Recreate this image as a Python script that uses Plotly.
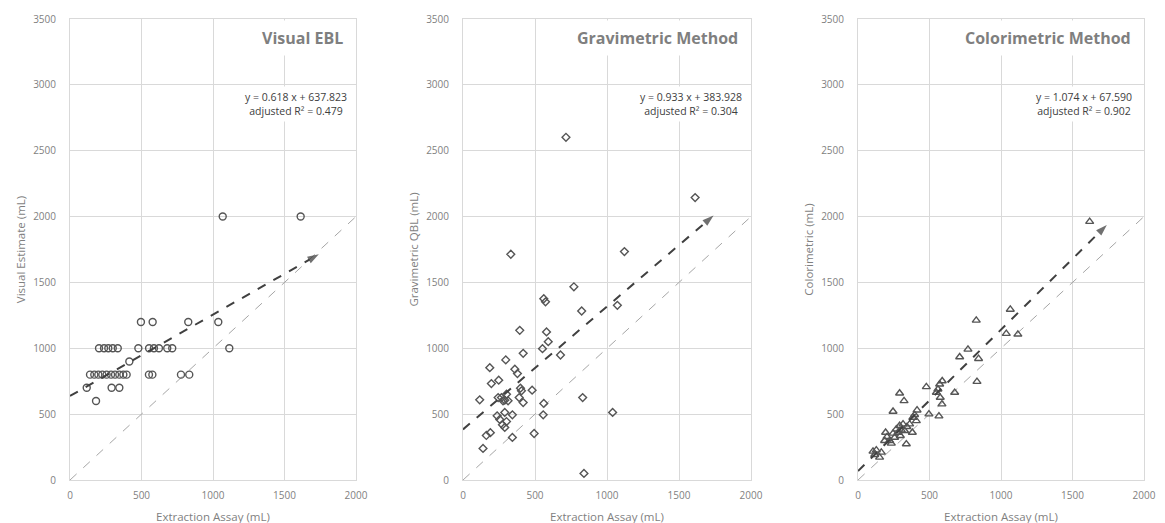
import plotly.graph_objects as go
from plotly.subplots import make_subplots

# ---------------- data ----------------
visual_x = [496, 578, 827, 1037,
            203, 238, 268, 299, 334, 478, 553, 587, 622, 680, 715, 1114,
            415,
            140, 170, 198, 226, 256, 287, 315, 345, 373, 396, 552, 576, 776, 834,
            117, 291, 345,
            182,
            1068, 1613]
visual_y = [1200, 1200, 1200, 1200,
            1000, 1000, 1000, 1000, 1000, 1000, 1000, 1000, 1000, 1000, 1000, 1000,
            900,
            800, 800, 800, 800, 800, 800, 800, 800, 800, 800, 800, 800, 800, 800,
            700, 700, 700,
            600,
            2000, 2000]

grav_x = [116, 139, 162, 190, 186, 197, 248, 297, 237, 255, 274, 290, 302, 290, 343, 343,
          244, 267, 290, 302, 313, 278, 360, 378, 394, 399, 406, 390, 418, 418, 480, 494,
          552, 561, 557, 561, 573, 580, 592, 677, 770, 824, 831, 840, 1039, 1072,
          715, 1612, 332, 1121]
grav_y = [609, 240, 338, 359, 853, 732, 758, 912, 487, 460, 419, 399, 444, 513, 495, 323,
          626, 626, 606, 651, 601, 601, 841, 808, 1136, 697, 677, 626, 588, 962, 682, 353,
          997, 581, 495, 1376, 1353, 1124, 1050, 949, 1467, 1283, 626, 50, 513, 1326,
          2602, 2144, 1714, 1734]

color_x = [105, 117, 128, 151, 163, 186, 193, 203, 221, 233, 245, 245, 256, 268, 280, 291,
           291, 296, 303, 315, 322, 326, 338, 342, 361, 380, 384, 396, 408, 413, 478, 496,
           548, 559, 566, 571, 575, 587, 589, 676, 711, 769, 827, 832, 843, 1037, 1065,
           1118, 1620]
color_y = [217, 192, 227, 172, 210, 298, 361, 328, 298, 278, 520, 354, 323, 386, 361, 659,
           412, 336, 379, 424, 601, 374, 273, 404, 424, 361, 475, 495, 449, 530, 707, 500,
           664, 689, 485, 727, 626, 576, 752, 664, 934, 992, 1212, 747, 921, 1111, 1295,
           1106, 1962]

titles = ["Visual EBL", "Gravimetric Method", "Colorimetric Method"]
y_titles = ["Visual Estimate (mL)", "Gravimetric QBL (mL)", "Colorimetric (mL)"]
x_title = "Extraction Assay (mL)"
slopes = [0.618, 0.933, 1.074]
intercepts = [637.823, 383.928, 67.590]
adj_r2 = [0.479, 0.304, 0.902]
fit_x_end = 1740
x_ticks = [0, 500, 1000, 1500, 2000]
y_ticks = [0, 500, 1000, 1500, 2000, 2500, 3000, 3500]
symbols = ["circle-open", "diamond-open", "triangle-up-open"]
marker_sizes = [7, 6, 7]

series = [(visual_x, visual_y), (grav_x, grav_y), (color_x, color_y)]

# ---------------- figure ----------------
OFF = 0                      # body margin removed via post_script
W, H = 1165, 523
fig = make_subplots(rows=1, cols=3)

FONT = "Open Sans"
GRID = "#d9d9d9"
TXT = "#7f7f7f"

def px_x(p):
    return (p - OFF) / W

def px_y(p):
    return 1 - (p - OFF) / H

x_domains = [(px_x(70), px_x(356)), (px_x(463), px_x(751)), (px_x(858), px_x(1144))]
y_domain = (px_y(480), px_y(19))

for i, ((xs, ys), sym, ms) in enumerate(zip(series, symbols, marker_sizes)):
    col = i + 1
    # identity line
    fig.add_trace(go.Scatter(x=[x_ticks[0], x_ticks[-1]], y=[x_ticks[0], x_ticks[-1]],
                             mode="lines",
                             line=dict(color="#a6a6a6", width=1, dash="dash"),
                             showlegend=False, hoverinfo="skip"), row=1, col=col)
    # data
    fig.add_trace(go.Scatter(x=xs, y=ys, mode="markers",
                             marker=dict(symbol=sym, size=ms, color="#555555",
                                         line=dict(width=1.4, color="#555555")),
                             showlegend=False), row=1, col=col)
    # fit line with arrow
    fx = [0, fit_x_end]
    fy = [intercepts[i] + slopes[i] * v for v in fx]
    fig.add_trace(go.Scatter(x=fx, y=fy, mode="lines+markers",
                             line=dict(color="#404040", width=2, dash="dash"),
                             marker=dict(symbol=["circle", "arrow"], size=[0, 12],
                                         color="#333333", angleref="previous",
                                         line=dict(width=0)),
                             showlegend=False, hoverinfo="skip"), row=1, col=col)

    xa = "xaxis" if i == 0 else f"xaxis{col}"
    ya = "yaxis" if i == 0 else f"yaxis{col}"
    fig.layout[xa].update(domain=x_domains[i], range=[x_ticks[0], x_ticks[-1]],
                          tickvals=x_ticks, showgrid=True, gridcolor=GRID, gridwidth=1,
                          zeroline=False, showline=True, linecolor=GRID, mirror=True,
                          automargin=False,
                          ticks="outside", ticklen=6, tickcolor="rgba(0,0,0,0)",
                          tickfont=dict(family=FONT, size=10, color=TXT))
    fig.layout[ya].update(domain=y_domain, range=[y_ticks[0], y_ticks[-1]],
                          tickvals=y_ticks, showgrid=True, gridcolor=GRID, gridwidth=1,
                          zeroline=False, showline=True, linecolor=GRID, mirror=True,
                          automargin=False,
                          ticks="outside", ticklen=11, tickcolor="rgba(0,0,0,0)",
                          tickfont=dict(family=FONT, size=10, color=TXT),
                          title=dict(text=y_titles[i], standoff=5,
                                     font=dict(family=FONT, size=11.5, color=TXT)))

    xref = "x" if i == 0 else f"x{col}"
    yref = "y" if i == 0 else f"y{col}"
    # x-axis title
    fig.add_annotation(xref=f"{xref} domain", yref="paper", x=0.5, y=px_y(516),
                       xanchor="center", yanchor="middle", text=x_title, showarrow=False,
                       font=dict(family=FONT, size=11.5, color=TXT))
    fig.add_annotation(xref=xref, yref=yref, x=1955, y=3355, xanchor="right", yanchor="middle",
                       text=f"<b>{titles[i]}</b>", showarrow=False,
                       font=dict(family=FONT, size=16, color=TXT),
                       bgcolor="white", borderpad=6)
    fig.add_annotation(xref=xref, yref=yref, x=1580, y=2858, xanchor="center", yanchor="middle",
                       text=f"y = {slopes[i]:.3f} x + {intercepts[i]:.3f}<br>adjusted R² = {adj_r2[i]:.3f}",
                       showarrow=False, align="center",
                       font=dict(family=FONT, size=10.5, color="#404040"),
                       bgcolor="white", borderpad=3)

fig.update_layout(width=W, height=H, margin=dict(l=0, r=0, t=0, b=0),
                  paper_bgcolor="white", plot_bgcolor="white",
                  font=dict(family=FONT))

fig.write_html("out.html", config={"displayModeBar": False},
               post_script="document.body.style.margin='0';document.body.style.overflow='hidden';")
